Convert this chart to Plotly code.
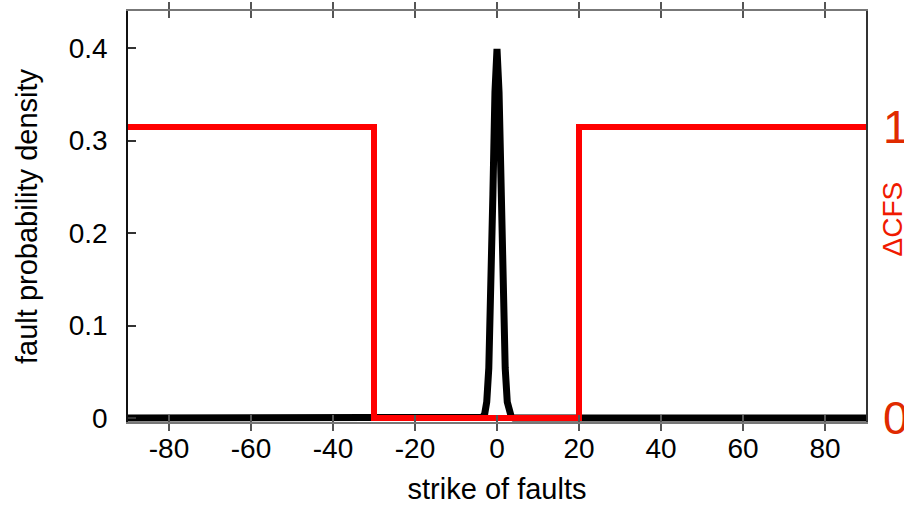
import plotly.graph_objects as go

# fault probability density
strike_pdf = [-90, -5, -4, -3.5, -3, -2.5, -2, -1.5, -1, -0.5, 0, 0.5, 1, 1.5, 2, 2.5, 3, 3.5, 4, 5, 90]
pdf_vals = [0, 0, 0.0001, 0.0009, 0.0044, 0.0175, 0.054, 0.1295, 0.242, 0.352, 0.399,
            0.352, 0.242, 0.1295, 0.054, 0.0175, 0.0044, 0.0009, 0.0001, 0, 0]

# Delta CFS step
strike_cfs = [-90, -30, -30, 20, 20, 90]
cfs_vals = [1, 1, 0, 0, 1, 1]

x_ticks = [-80, -60, -40, -20, 0, 20, 40, 60, 80]
x_ticktext = ["-80", "-60", "-40", "-20", "0", "20", "40", "60", "80"]
y_ticks = [0, 0.1, 0.2, 0.3, 0.4]
y_ticktext = ["0", "0.1", "0.2", "0.3", "0.4"]
y2_ticks = [0, 1]

FONT = "Liberation Sans"

fig = go.Figure()
fig.add_trace(go.Scatter(x=strike_pdf, y=pdf_vals, mode="lines",
                         line=dict(color="black", width=7), showlegend=False))
fig.add_trace(go.Scatter(x=strike_cfs, y=cfs_vals, mode="lines", yaxis="y2",
                         line=dict(color="#ff0000", width=6), showlegend=False))

fig.update_layout(
    width=904, height=505,
    margin=dict(l=128, r=38, t=11, b=83),
    paper_bgcolor="white", plot_bgcolor="white",
    font=dict(family=FONT, size=28, color="black"),
    xaxis=dict(range=[-90, 90], tickvals=x_ticks, ticktext=x_ticktext,
               ticks="inside", ticklen=7, tickcolor="#555", tickwidth=1.5,
               showline=True, linecolor="#777", linewidth=2,
               mirror="allticks", showgrid=False, zeroline=False, automargin=False,
               ticklabelstandoff=0,
               title=dict(text="strike of faults", font=dict(size=29), standoff=20),
               tickfont=dict(size=28)),
    yaxis=dict(range=[-0.0043, 0.44], tickvals=y_ticks, ticktext=y_ticktext,
               ticks="inside", ticklen=8, tickcolor="#333", tickwidth=1.5,
               showline=True, linecolor="#111", linewidth=1.5, mirror=False,
               showgrid=False, zeroline=False, automargin=False, ticklabelstandoff=13,
               title=dict(text="fault probability density", font=dict(size=29), standoff=23),
               tickfont=dict(size=28)),
    yaxis2=dict(range=[-0.0137, 1.3986], tickvals=y2_ticks, overlaying="y", side="right",
                ticks="", showline=True, linecolor="#333", linewidth=1.5,
                showgrid=False, zeroline=False, automargin=False, ticklabelstandoff=6,
                tickfont=dict(size=46, color="#e02a00")),
    annotations=[dict(text="ΔCFS", textangle=-90, xref="paper", yref="paper",
                      x=1, y=0.5, xanchor="center", yanchor="middle",
                      xshift=26, yshift=-3, showarrow=False,
                      font=dict(size=28, color="#f01a00", family=FONT))],
)

fig.write_html("out.html")
